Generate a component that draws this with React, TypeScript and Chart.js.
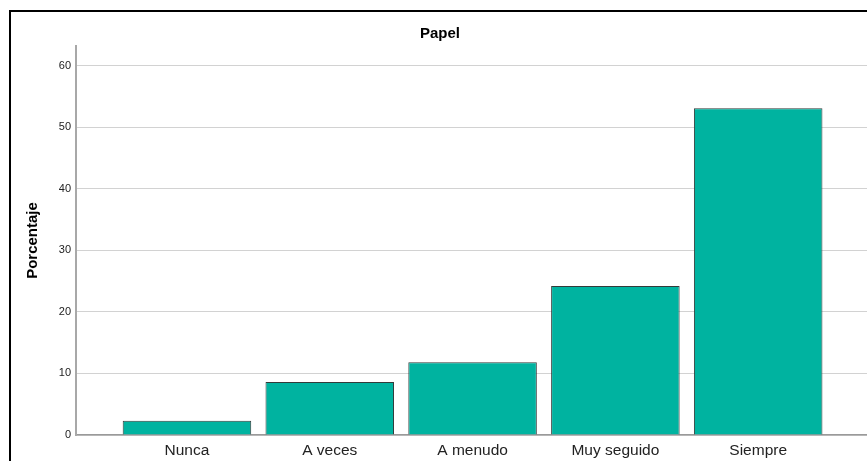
import React, { useEffect, useRef } from "react";
import { Chart, registerables } from "chart.js";

Chart.register(...registerables);

const chartTitle = "Papel";
const yAxisTitle = "Porcentaje";
const categories = ["Nunca", "A veces", "A menudo", "Muy seguido", "Siempre"];
const percentages = [2.3, 8.6, 11.8, 24.2, 53.1];
const yMin = 0;
const yMax = 63.2;
const yStep = 10;

const FONT = "'Liberation Sans', Arial, Helvetica, sans-serif";

export default function App() {
  const ref = useRef<HTMLCanvasElement | null>(null);

  useEffect(() => {
    if (!ref.current) return;
    const chart = new Chart(ref.current, {
      type: "bar",
      data: {
        datasets: [
          {
            label: yAxisTitle,
            data: categories.map((c, i) => ({ x: i, y: percentages[i] })),
            backgroundColor: "#00b3a0",
            borderColor: "#333b3a",
            borderWidth: 1,
            barPercentage: 0.9,
            categoryPercentage: 1,
          },
        ],
      },
      options: {
        responsive: false,
        animation: false,
        layout: { padding: { top: 0, left: 0, right: 8, bottom: 0 } },
        plugins: {
          legend: { display: false },
          tooltip: { enabled: false },
          title: {
            display: true,
            text: chartTitle,
            color: "#000",
            font: { family: FONT, size: 15, weight: "bold" },
            padding: { top: 13, bottom: 3 },
          },
        },
        scales: {
          x: {
            type: "linear",
            min: -0.777,
            max: 4.776,
            offset: false,
            grid: { display: false, drawTicks: false, tickLength: 0, offset: false },
            border: { display: true, color: "#9a9a9a", width: 1.5 },
            ticks: {
              stepSize: 1,
              includeBounds: false,
              autoSkip: false,
              maxRotation: 0,
              padding: 6,
              color: "#222",
              font: { family: FONT, size: 15.5 },
              callback: (v: any) => categories[Number(v)] ?? "",
            },
            afterFit: (s: any) => {
              s.height = 57;
            },
          },
          y: {
            min: yMin,
            max: yMax,
            grid: { color: "#d2d2d2", lineWidth: 1, drawTicks: false, tickLength: 0 },
            border: { display: true, color: "#a8a8a8", width: 2 },
            ticks: {
              stepSize: yStep,
              includeBounds: false,
              padding: 5,
              color: "#222",
              font: { family: FONT, size: 11 },
            },
            title: {
              display: true,
              text: yAxisTitle,
              color: "#000",
              font: { family: FONT, size: 15, weight: "bold" },
              padding: { top: 13, bottom: 0 },
            },
            afterFit: (s: any) => {
              s.width = 65;
            },
          },
        },
      },
    });
    return () => chart.destroy();
  }, []);

  return (
    <div
      style={{
        position: "absolute",
        left: 0,
        top: 0,
        width: 867,
        height: 461,
        overflow: "hidden",
        background: "#fff",
      }}
    >
      <div
        style={{
          position: "absolute",
          left: 9,
          top: 10,
          width: 900,
          height: 500,
          border: "2px solid #000",
          boxSizing: "border-box",
        }}
      />
      <canvas
        ref={ref}
        width={866}
        height={480}
        style={{ position: "absolute", left: 11, top: 12, width: 866, height: 480 }}
      />
    </div>
  );
}
